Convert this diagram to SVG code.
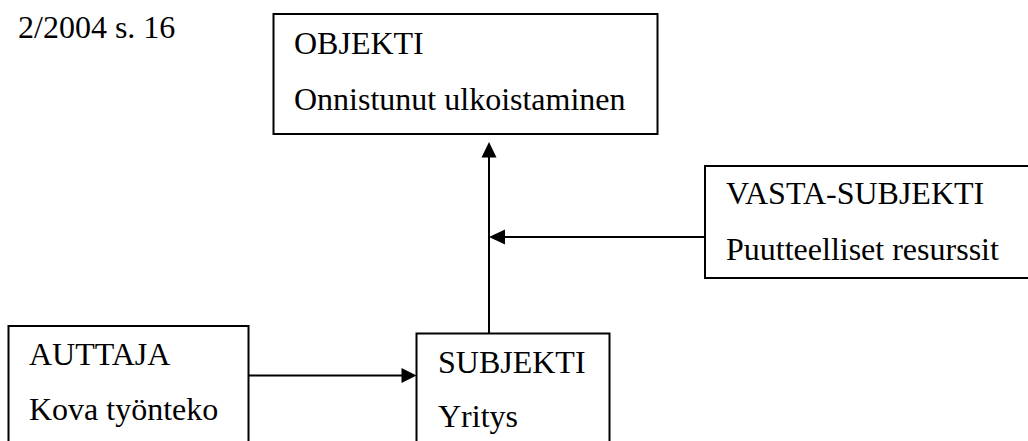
<svg xmlns="http://www.w3.org/2000/svg" width="1028" height="441" viewBox="0 0 1028 441">
<style>
.box{fill:#fff;stroke:#000;stroke-width:2}
.t{font-family:"Liberation Serif","Times New Roman",serif;font-size:32px;fill:#000}
.ln{stroke:#000;stroke-width:2;fill:none}
.ah{fill:#000;stroke:none}
</style>
<rect width="1028" height="441" fill="#fff"/>
<text class="t" x="18" y="38">2/2004 s. 16</text>
<g id="objekti">
<rect class="box" x="273.5" y="14" width="384" height="120"/>
<text class="t" x="294" y="54">OBJEKTI</text>
<text class="t" x="294" y="110">Onnistunut ulkoistaminen</text>
</g>
<g id="vasta-subjekti">
<rect class="box" x="705" y="166" width="340" height="112"/>
<text class="t" x="726" y="204">VASTA-SUBJEKTI</text>
<text class="t" x="726" y="260">Puutteelliset resurssit</text>
</g>
<g id="auttaja">
<rect class="box" x="8.5" y="326" width="240" height="140"/>
<text class="t" x="29" y="365">AUTTAJA</text>
<text class="t" x="29" y="420">Kova työnteko</text>
</g>
<g id="subjekti">
<rect class="box" x="416.5" y="333.5" width="193" height="140"/>
<text class="t" x="438" y="373">SUBJEKTI</text>
<text class="t" x="438" y="427">Yritys</text>
</g>
<g id="connectors">
<line class="ln" x1="489" y1="333" x2="489" y2="155"/>
<polygon class="ah" points="489,142 481.5,157.5 496.5,157.5"/>
<line class="ln" x1="705" y1="237" x2="503" y2="237"/>
<polygon class="ah" points="489,237 505,229.5 505,244.5"/>
<line class="ln" x1="249" y1="375.5" x2="403" y2="375.5"/>
<polygon class="ah" points="416.5,375.5 401.5,368 401.5,383"/>
</g>
</svg>
